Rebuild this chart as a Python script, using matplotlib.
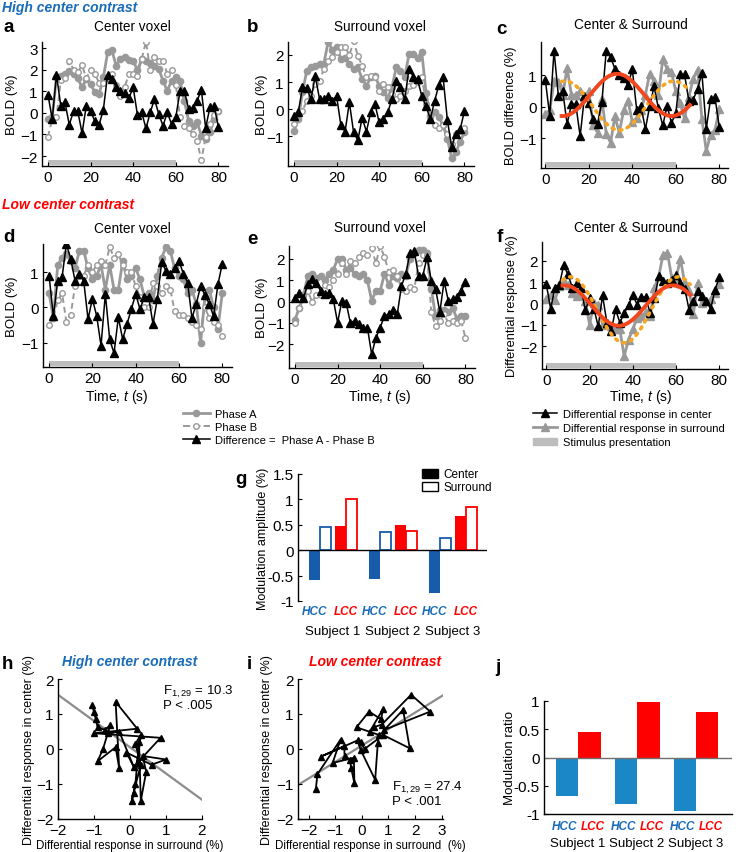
import numpy as np
import matplotlib
matplotlib.use("Agg")
import matplotlib.pyplot as plt
import matplotlib.transforms as mtransforms
from matplotlib.lines import Line2D
from matplotlib.patches import Patch, Rectangle

plt.rcParams['font.family'] = 'Liberation Sans'
plt.rcParams['mathtext.fontset'] = 'custom'
plt.rcParams['mathtext.rm'] = 'Liberation Sans'
plt.rcParams['mathtext.it'] = 'Liberation Sans:italic'
plt.rcParams['mathtext.default'] = 'regular'
plt.rcParams['axes.linewidth'] = 1.0

## data

time_s = np.arange(0, 81, 2)
stim_on, stim_off = 0, 60

# high center contrast, center voxel
a_phaseA = [-0.3, -0.2, 1.64, 1.72, 1.8, 1.92, 1.8, 1.6, 1.18, 1.56,
            1.33, 0.95, 0.87, 1.64, 2.8, 2.9, 2.18, 2.49, 2.6, 2.44,
            2.41, 1.98, 2.49, 2.41, 2.29, 2.18, 2.03, 1.49, 1.02, 1.49,
            1.64, 1.49, 0.56, -0.36, -0.6, -0.44, -1.06, -1.21, -0.9, -0.29, 0.1]
a_phaseB = [-1.1, -0.3, -0.2, 1.5, 1.6, 2.4, 2.0, 1.9, 2.2, 1.6,
            2.0, 1.8, 1.4, 1.4, 1.6, 1.8, 1.3, 0.8, 1.2, 1.8,
            1.8, 1.7, 2.5, 3.3, 2.0, 2.6, 2.4, 2.4, 1.8, 2.0,
            1.3, -0.2, -0.6, -0.7, -1.0, -1.3, -2.2, -1.1, -0.5, -0.1, 0.1]
a_diff = [0.84, -0.29, 1.77, 0.33, 0.48, -0.55, 0.07, 0.07, -0.94, 0.33,
          0.1, -0.4, -0.55, 0.15, 1.77, 1.56, 1.2, 0.99, 0.9, 0.68,
          1.18, -0.1, 0.02, -0.72, 0.02, 0.64, -0.06, -0.6, 0.02, -0.52,
          -0.21, 1.02, 1.02, 0.18, 0.22, 0.56, 1.06, -0.7, 0.25, 0.3, -0.65]

# high center contrast, surround voxel
b_phaseA = [-0.8, -0.37, 0.62, 1.42, 1.54, 1.6, 1.67, 1.67, 2.47, 2.2,
            2.28, 1.85, 1.9, 1.67, 1.48, 1.54, 1.11, 0.86, 1.17, 1.23,
            0.86, 0.62, 0.43, 0.8, 1.54, 1.42, 1.17, 2.04, 2.04, 1.9,
            2.1, 0.6, -0.26, -0.1, -0.3, -0.6, -1.1, -1.8, -1.6, -1.2, -0.85]
b_phaseB = [-0.55, -0.18, -0.06, 0.3, 0.5, 0.93, 1.05, 1.48, 1.79, 1.91,
            2.1, 2.28, 2.3, 2.0, 2.5, 1.98, 1.6, 1.17, 1.23, 1.2,
            0.68, 0.93, 0.8, 0.56, 0.37, 0.49, 0.68, 0.86, 0.9, 1.0,
            1.2, 0.2, -0.4, -0.6, -0.7, -0.6, -0.9, -1.3, -0.9, -0.8, -0.7]
b_diff = [-0.25, -0.12, 0.8, 0.78, 0.37, 1.23, 0.37, 0.37, 0.49, 0.31,
          0.49, -0.58, -0.83, 0.25, -0.86, -1.15, -0.31, -0.83, -0.12, 0.19,
          -0.49, -0.37, -0.12, 0.37, 1.05, 0.8, 0.37, 1.5, 1.2, 1.1,
          0.48, 0.1, -0.37, 0.3, 0.89, 1.17, -0.4, -1.4, -0.9, -0.75, -0.07]

# low center contrast, center voxel
d_phaseA = [0.4, -0.3, 1.2, 1.4, 1.5, 1.3, 1.1, 1.6, 1.6, 1.1,
            0.8, 0.9, 1.2, 0.5, 1.2, 0.5, 0.5, 1.3, 0.8, 0.9,
            1.1, 0.8, 0.3, 0.4, 0.2, 0.9, 1.4, 1.7, 1.6, 1.1,
            0.9, 0.8, 0.4, 0.5, 0.1, -1.0, 0.3, 0.5, 0.0, -0.6, 0.4]
d_phaseB = [-0.5, -0.3, 0.2, 0.4, -0.4, -0.2, 0.6, 0.9, 0.9, 1.2,
            1.0, 1.2, 1.3, 1.2, 1.7, 1.4, 1.5, 1.2, 1.0, 1.0,
            0.6, 0.3, 0.0, 0.0, 0.7, 0.6, 0.4, 0.6, 0.5, -0.1,
            -0.2, -0.2, -0.3, -0.4, -0.5, -0.6, 0.0, -0.3, -0.4, -0.5, -0.8]
d_diff = [0.9, -0.25, 0.75, 0.85, 1.79, 1.37, 0.75, 0.94, 0.75, -0.33,
          0.24, -0.24, -1.08, 0.38, -0.9, -1.29, -0.28, -0.9, -0.47, -0.05,
          0.38, -0.05, 0.3, 0.3, -0.47, 0.24, 1.27, 1.04, 0.95, 1.1,
          1.32, 0.95, 0.7, -0.3, 0.1, 0.6, 0.35, 0.1, -0.25, 0.65, 1.23]

# low center contrast, surround voxel
e_phaseA = [-0.85, -0.3, 0.3, 1.2, 1.3, 1.1, 1.2, 1.0, 1.3, 1.5,
            2.0, 2.0, 1.5, 1.6, 1.3, 1.2, 1.3, 1.0, 0.05, 0.5,
            0.5, 1.3, 0.8, 1.2, 1.1, 1.3, 1.2, 2.0, 2.3, 2.4,
            2.4, 2.3, 0.6, -0.7, -0.4, -0.4, -0.5, -0.3, -0.8, -0.7, -0.7]
e_phaseB = [-1.0, -0.3, 0.1, 0.5, 0.0, 0.3, 0.3, 0.8, 0.7, 1.0,
            1.3, 1.8, 1.3, 1.9, 1.8, 2.1, 2.3, 2.2, 2.5, 1.8,
            2.6, 2.1, 1.4, 1.5, 1.2, 0.6, 0.5, 0.7, 0.6, 1.8,
            2.2, 2.2, -0.5, -1.15, -0.9, -0.6, -1.0, -0.9, -1.0, -0.9, -1.7]
e_diff = [0.19, 0.42, 0.16, 0.82, 1.05, 0.89, 0.5, 0.35, 0.42, 0.11,
          -0.99, 0.03, -0.05, -0.99, -0.9, -1.07, -1.22, -1.22, -2.48, -1.7,
          -1.22, -0.67, -0.6, -0.41, -0.6, 0.74, 1.29, 2.3, 2.38, 1.2,
          1.2, 2.09, 0.96, 0.59, -0.49, 0.96, 0.02, 0.1, 0.2, 0.5, 0.92]

# sinusoid fits: offset, amplitude, peak time (s), period (s)
fit_span = (7.5, 66.5)
c_fit_center = (0.37, 0.67, 33.0, 50.0)
c_fit_surround = (0.03, -0.78, 34.0, 50.0)
f_fit_center = (-0.1, -0.95, 33.5, 50.0)
f_fit_surround = (-0.3, -1.55, 36.0, 50.0)

# modulation amplitude (g)
subjects = ['Subject 1', 'Subject 2', 'Subject 3']
g_hcc_center = [-0.58, -0.56, -0.84]
g_hcc_surround = [0.45, 0.36, 0.25]
g_lcc_center = [0.48, 0.49, 0.67]
g_lcc_surround = [1.0, 0.37, 0.86]

# scatter h: surround vs center, high center contrast
h_surround = [-1.05, -1.0, -0.95, -0.9, -0.7, -0.55, -0.75, -0.9, -0.4, -0.3,
              -0.4, 0.2, -1.0, 0.85, 0.2, 0.3, 0.15, 0.3, 0.1, 0.05,
              0.15, 0.25, 0.3, 0.45, 0.35, 1.0, 0.6, -0.1, 0.1, -0.3, -0.6]
h_center = [1.25, 1.05, 0.85, 0.62, 0.55, 0.68, 0.0, -0.35, 0.05, -0.55,
            1.35, 0.58, 0.45, 0.32, -0.4, 0.4, 0.15, -0.45, -1.25, -1.48,
            -1.0, 0.2, -1.48, -0.65, -0.2, -0.3, -0.45, -0.1, -0.5, 0.5, 0.45]
h_fit = (0.05, -0.75)  # intercept, slope
h_stats = ('10.3', '.005')

# scatter i: low center contrast
i_surround = [-1.73, -1.67, -0.8, -1.1, -0.3, -0.28, -0.4, -0.45, -0.65, -0.66,
              -1.55, -0.15, -0.05, 0.5, 0.6, 0.65, -0.2, 0.27, 0.72, 0.8,
              0.3, 0.45, 0.75, 1.85, 2.57, 0.85, 1.55, 1.8, 0.8, 0.1, -0.05]
i_center = [-1.15, -0.72, 0.27, -0.4, -0.25, -0.98, -0.55, -0.3, -0.2, 0.08,
            -0.22, 0.25, -0.02, -0.88, 0.18, 0.4, 0.62, 1.07, 0.85, 1.15,
            0.5, 0.62, 0.7, 1.55, 1.07, 0.55, 1.12, 0.02, 0.4, 0.0, 0.2]
i_fit = (0.1, 0.47)
i_stats = ('27.4', '.001')

# modulation ratio (j)
j_hcc = [-0.69, -0.83, -0.94]
j_lcc = [0.46, 0.99, 0.8]

## styling

GRAY = '#999999'
STIM = '#bdbdbd'
RED = '#ff0000'
FIT_RED = '#f2461d'
FIT_ORANGE = '#f5a623'
BLUE_G = '#175caa'
BLUE_J = '#1c87c6'
BLUE_TXT = '#1a6cb8'
TICK_FS = 11

W, H = 750, 853
fig = plt.figure(figsize=(W / 100, H / 100), dpi=100)


def rect(l, t, r, b):
    return [l / W, 1 - b / H, (r - l) / W, (b - t) / H]


def ftext(x, y, s, **kw):
    kw.setdefault('ha', 'left')
    kw.setdefault('va', 'center')
    fig.text(x / W, 1 - y / H, s, **kw)


def style(ax, bottom=True):
    ax.spines['top'].set_visible(False)
    ax.spines['right'].set_visible(False)
    if not bottom:
        ax.spines['bottom'].set_visible(False)
    ax.tick_params(direction='in', length=3, labelsize=TICK_FS, pad=3)


def ylabel_at(ax, s, x, size=9.5):
    # x is the centre of the rotated label, in pixels
    ax.set_ylabel(s, fontsize=size)
    bb = ax.get_position()
    ax.yaxis.set_label_coords((x + 0.45 * size * 1.39) / W, bb.y0 + bb.height / 2,
                              transform=fig.transFigure)


def stim_bar(ax):
    tr = mtransforms.blended_transform_factory(ax.transData, ax.transAxes)
    ax.add_patch(Rectangle((stim_on, 0.008), stim_off - stim_on, 0.04,
                           transform=tr, color=STIM, lw=0))


def sine(p, tt):
    off, amp, peak, per = p
    return off + amp * np.cos(2 * np.pi * (tt - peak) / per)


def phase_panel(box, A, B, D, ylim, yticks, ylab_x):
    ax = fig.add_axes(rect(*box))
    ax.plot(time_s, A, '-o', color=GRAY, lw=2, ms=4.5, mfc=GRAY, mec=GRAY)
    ax.plot(time_s, B, '--o', color=GRAY, lw=1.4, ms=4, mfc='white', mec=GRAY,
            mew=1, dashes=(3, 2))
    ax.plot(time_s, D, '-^', color='k', lw=1.1, ms=5.5)
    stim_bar(ax)
    ax.set_xlim(-2.8, 84.5)
    ax.set_ylim(*ylim)
    ax.set_xticks([0, 20, 40, 60, 80])
    ax.set_yticks(yticks)
    style(ax)
    ylabel_at(ax, 'BOLD (%)', ylab_x)
    return ax


def diff_panel(box, center, surround, fc, fs, ylim, yticks, ylab, ylab_x):
    ax = fig.add_axes(rect(*box))
    ax.plot(time_s, surround, '-^', color=GRAY, lw=2, ms=5.5, mec=GRAY)
    ax.plot(time_s, center, '-^', color='k', lw=1.1, ms=5.5)
    tf = np.linspace(fit_span[0], fit_span[1], 200)
    ax.plot(tf, sine(fs, tf), color=FIT_ORANGE, lw=2.6, ls=(0, (0.6, 1.6)),
            dash_capstyle='round')
    ax.plot(tf, sine(fc, tf), color=FIT_RED, lw=2.8)
    stim_bar(ax)
    ax.set_xlim(-2, 84)
    ax.set_ylim(*ylim)
    ax.set_xticks([0, 20, 40, 60, 80])
    ax.set_yticks(yticks)
    style(ax)
    ylabel_at(ax, ylab, ylab_x, size=9.3)
    return ax


# row 1
phase_panel((42, 43, 228, 167), a_phaseA, a_phaseB, a_diff, (-2.46, 3.28),
            [-2, -1, 0, 1, 2, 3], 12)
phase_panel((288, 43, 474, 167), b_phaseA, b_phaseB, b_diff, (-2.1, 2.48),
            [-1, 0, 1, 2], 262)
diff_panel((541, 43, 728, 169), a_diff, b_diff, c_fit_center, c_fit_surround,
           (-1.95, 2.05), [-1, 0, 1], 'BOLD difference (%)', 511)

# row 2
phase_panel((43, 245, 232, 368), d_phaseA, d_phaseB, d_diff, (-1.68, 1.79),
            [-1, 0, 1], 12)
phase_panel((289, 247, 475, 369), e_phaseA, e_phaseB, e_diff, (-3.12, 2.61),
            [-2, -1, 0, 1, 2], 262)
diff_panel((542, 243, 728, 370), d_diff, e_diff, f_fit_center, f_fit_surround,
           (-3.08, 2.89), [-2, -1, 0, 1, 2], 'Differential response (%)', 512)

for x in (117, 380, 641):
    ftext(x, 397, 'Time, $\\mathit{t}$ (s)', ha='center', fontsize=10)

# headings
ftext(2, 8, 'High center contrast', color=BLUE_TXT, fontsize=10,
      fontweight='bold', fontstyle='italic')
ftext(2, 205, 'Low center contrast', color=RED, fontsize=10,
      fontweight='bold', fontstyle='italic')
for x, y, s in [(132, 27, 'Center voxel'), (380, 27, 'Surround voxel'),
                (631, 25, 'Center & Surround'), (132, 229, 'Center voxel'),
                (380, 228, 'Surround voxel'), (631, 228, 'Center & Surround')]:
    ftext(x, y, s, ha='center', fontsize=9.8)

for x, y, s in [(3, 28, 'a'), (247, 28, 'b'), (496, 29, 'c'), (3, 238, 'd'),
                (247, 240, 'e'), (497, 238, 'f'), (235, 480, 'g'),
                (2, 665, 'h'), (247, 665, 'i'), (495, 668, 'j')]:
    ftext(x, y, s, fontsize=13.5, fontweight='bold')

# legends under the time courses
left_handles = [
    Line2D([], [], color=GRAY, lw=2, marker='o', ms=4.5, mfc=GRAY, mec=GRAY),
    Line2D([], [], color=GRAY, lw=1.4, ls='--', marker='o', ms=4, mfc='white', mec=GRAY),
    Line2D([], [], color='k', lw=1.1, marker='^', ms=5.5),
]
fig.legend(left_handles, ['Phase A', 'Phase B', 'Difference =  Phase A - Phase B'],
           loc='upper left', bbox_to_anchor=(183 / W, 1 - 410 / H), frameon=False,
           fontsize=8, handlelength=2.4, handletextpad=0.5, labelspacing=0.25,
           borderpad=0, borderaxespad=0)
right_handles = [
    Line2D([], [], color='k', lw=1.1, marker='^', ms=5.5),
    Line2D([], [], color=GRAY, lw=2, marker='^', ms=5.5, mec=GRAY),
    Patch(color=STIM),
]
fig.legend(right_handles, ['Differential response in center',
                           'Differential response in surround',
                           'Stimulus presentation'],
           loc='upper left', bbox_to_anchor=(533 / W, 1 - 410 / H), frameon=False,
           fontsize=8, handlelength=2.2, handletextpad=0.5, labelspacing=0.38,
           borderpad=0, borderaxespad=0)

# g: modulation amplitude
grp = np.arange(1, 4)
axg = fig.add_axes(rect(298, 475, 487, 602))
bw = 0.19
axg.bar(grp - 0.30, g_hcc_center, bw, color=BLUE_G, lw=0)
axg.bar(grp - 0.11, g_hcc_surround, bw, facecolor='white', edgecolor=BLUE_G, lw=1.3)
axg.bar(grp + 0.14, g_lcc_center, bw, color=RED, lw=0)
axg.bar(grp + 0.32, g_lcc_surround, bw, facecolor='white', edgecolor=RED, lw=1.3)
axg.axhline(0, color='k', lw=1)
axg.set_xlim(0.43, 3.58)
axg.set_ylim(-1, 1.5)
axg.set_xticks([])
axg.set_yticks([-1, -0.5, 0, 0.5, 1, 1.5])
axg.set_yticklabels(['-1', '-0.5', '0', '0.5', '1', '1.5'])
style(axg, bottom=False)
ylabel_at(axg, 'Modulation amplitude (%)', 263, size=9)
trg = mtransforms.blended_transform_factory(axg.transData, axg.transAxes)
for k, g in enumerate(grp):
    axg.text(g - 0.3, -0.08, 'HCC', transform=trg, ha='center', va='center',
             color=BLUE_TXT, fontsize=8.5, fontweight='bold', fontstyle='italic')
    axg.text(g + 0.22, -0.08, 'LCC', transform=trg, ha='center', va='center',
             color=RED, fontsize=8.5, fontweight='bold', fontstyle='italic')
    axg.text(g, -0.24, subjects[k], transform=trg, ha='center', va='center', fontsize=9.5)
axg.legend([Patch(facecolor='k', edgecolor='k'), Patch(facecolor='white', edgecolor='k')],
           ['Center', 'Surround'], loc='upper left', bbox_to_anchor=(0.655, 1.045),
           frameon=False, fontsize=8.5, handlelength=1.4, handleheight=0.8,
           handletextpad=0.4, labelspacing=0.1, borderpad=0, borderaxespad=0)


# h, i: scatter of center vs surround
def scatter_panel(box, xs, ys, fit, stats, xlim, xticks, xlab, title, tcolor, tx,
                  sx, sy, ylab_x):
    ax = fig.add_axes(rect(*box))
    xx = np.array(xlim)
    ax.plot(xx, fit[0] + fit[1] * xx, color='#8c8c8c', lw=1.6, zorder=1)
    ax.plot(xs, ys, '-^', color='k', lw=1.3, ms=5, zorder=2)
    ax.set_xlim(*xlim)
    ax.set_ylim(-2, 2)
    ax.set_xticks(xticks)
    ax.set_yticks([-2, -1, 0, 1, 2])
    style(ax)
    ax.set_xlabel(xlab, fontsize=8.3, labelpad=1)
    ylabel_at(ax, 'Differential response in center (%)', ylab_x, size=9)
    ftext(tx, 662, title, ha='center', color=tcolor, fontsize=10,
          fontweight='bold', fontstyle='italic')
    ftext(sx, sy, 'F$_{1,29}$ = ' + stats[0], fontsize=9.5)
    ftext(sx, sy + 14, 'P < ' + stats[1], fontsize=9.5)
    return ax


scatter_panel((58, 680, 202, 820), h_surround, h_center, h_fit, h_stats,
              (-2, 2), [-2, -1, 0, 1, 2], 'Differential response in surround (%)',
              'High center contrast', BLUE_TXT, 130, 163, 692, 29)
scatter_panel((298, 680, 443, 820), i_surround, i_center, i_fit, i_stats,
              (-2.4, 3.05), [-2, -1, 0, 1, 2, 3], 'Differential response in surround  (%)',
              'Low center contrast', RED, 375, 392, 788, 267)

# j: modulation ratio
axj = fig.add_axes(rect(544, 702, 732, 815))
axj.bar(grp - 0.19, j_hcc, 0.38, color=BLUE_J, lw=0)
axj.bar(grp + 0.19, j_lcc, 0.38, color=RED, lw=0)
axj.axhline(0, color='#6e6e6e', lw=1)
axj.set_xlim(0.42, 3.61)
axj.set_ylim(-1, 1)
axj.set_xticks([])
axj.set_yticks([-1, -0.5, 0, 0.5, 1])
axj.set_yticklabels(['-1', '-0.5', '0', '0.5', '1'])
style(axj)
ylabel_at(axj, 'Modulation ratio', 510)
trj = mtransforms.blended_transform_factory(axj.transData, axj.transAxes)
for k, g in enumerate(grp):
    axj.text(g - 0.23, -0.106, 'HCC', transform=trj, ha='center', va='center',
             color=BLUE_TXT, fontsize=8.5, fontweight='bold', fontstyle='italic')
    axj.text(g + 0.25, -0.106, 'LCC', transform=trj, ha='center', va='center',
             color=RED, fontsize=8.5, fontweight='bold', fontstyle='italic')
    axj.text(g, -0.257, subjects[k], transform=trj, ha='center', va='center', fontsize=9.5)

fig.savefig('out.png', dpi=100)
